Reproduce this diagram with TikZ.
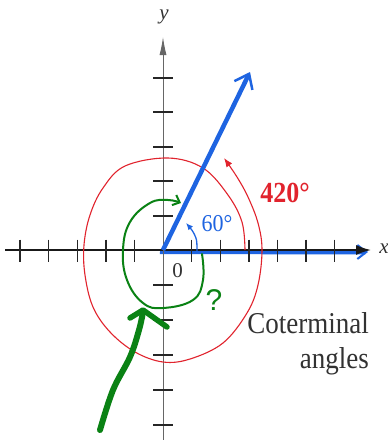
\documentclass[tikz,border=0pt]{standalone}
\usepackage{fontspec}
\setmainfont{Liberation Serif}
\setsansfont{Liberation Sans}
\usetikzlibrary{arrows.meta}
\definecolor{ablue}{RGB}{30,100,225}
\definecolor{ared}{RGB}{225,35,45}
\definecolor{agreen}{RGB}{10,130,20}
\definecolor{atext}{RGB}{50,50,50}
\tikzset{
  xtick/.style={line width=1.4pt, black!85},
  ytick/.style={line width=2pt, black!85},
  lbl/.style={inner sep=0pt, text=atext},
  greenpen/.style={agreen, line width=2pt, line cap=round, line join=round},
}
\begin{document}
\begin{tikzpicture}[x=1pt,y=-1pt]
\useasboundingbox (0,0) rectangle (388,440);
\fill[white] (0,0) rectangle (388,440);

% blue initial side (under the x-axis)
\draw[ablue, line width=5pt, -{Straight Barb[length=9pt,width=14pt,line width=2pt]}] (160,251.5) -- (368,252);

% axes
\draw[line width=1.6pt, black!90, -{Latex[length=15pt,width=10pt]}] (5,250) -- (371,250);
\draw[line width=0.9pt, black!60, -{Latex[length=18pt,width=7pt]}] (163,440) -- (163,37);

% ticks on x
\foreach \t in {20,48.6,77.2,105.8,134.4,191.6,220.2,248.8,277.4,306,334.6}
  \draw[xtick] (\t,239.5) -- (\t,262);
% ticks on y
\foreach \t in {78,112.4,146.8,181.2,215.6,285,320,355,390,425}
  \draw[ytick] (153,\t) -- (173,\t);

% red 420 spiral
\draw[ared, line width=1.1pt, -{Latex[length=9pt,width=7pt]}]
  plot[smooth, tension=0.6] coordinates {(245,250) (242,222) (228,195) (203,168) (168,158) (125,166) (103,188) (90,215) (84,245) (85,275) (93,307) (110,332) (135,352) (163,362) (190,359) (223,343) (247,313) (258,285) (262,250) (258,223) (248,197) (237,177) (224,158)};

% blue terminal side
\draw[ablue, line width=4.5pt, -{Straight Barb[length=13pt,width=20pt,line width=2.5pt]}] (163,250) -- (250,72);

% small 60 arc
\draw[ablue, line width=1.3pt, -{Latex[length=7pt,width=6pt]}]
  plot[smooth] coordinates {(197,252) (196.5,240) (192.5,231) (186,223)};

% labels
\node[lbl, text=ablue, font=\fontsize{22}{22}\selectfont] (a60) at (217,224) {\scalebox{1}[1.1]{60°}};
\node[lbl, text=ared, font=\bfseries\fontsize{26}{26}\selectfont] (a420) at (285,193) {\scalebox{1}[1.12]{420°}};
\node[lbl, anchor=base east, font=\fontsize{27}{27}\selectfont] (cot) at (369,333) {\scalebox{1}[1.12]{Coterminal}};
\node[lbl, anchor=base east, font=\fontsize{27}{27}\selectfont] (ang) at (369,368) {\scalebox{1}[1.12]{angles}};
\node[lbl, font=\fontsize{21}{21}\selectfont] (zero) at (177.5,270.5) {0};
\node[lbl, font=\itshape\fontsize{21}{21}\selectfont] (xl) at (384,249) {x};
\node[lbl, font=\itshape\fontsize{21}{21}\selectfont] (yl) at (164,17) {y};

% green annotations
\draw[greenpen, -{Straight Barb[length=6pt,width=11pt,line width=2pt]}]
  plot[smooth, tension=0.7] coordinates {(202,254) (203,280) (193,300) (163,308) (143,303) (127,280) (123,250) (130,222) (150,203) (168,200) (181,203)};
\node[lbl, text=agreen, font=\sffamily\fontsize{30}{30}\selectfont] (q) at (214,300) {?};
\draw[agreen, line width=6pt, line cap=round]
  plot[smooth, tension=0.6] coordinates {(100,430) (113,390) (130,357) (139,330) (143,312)};
\draw[agreen, line width=5.5pt, line cap=round, line join=round] (130,318) -- (143,310) -- (167,327);
\end{tikzpicture}
\end{document}
